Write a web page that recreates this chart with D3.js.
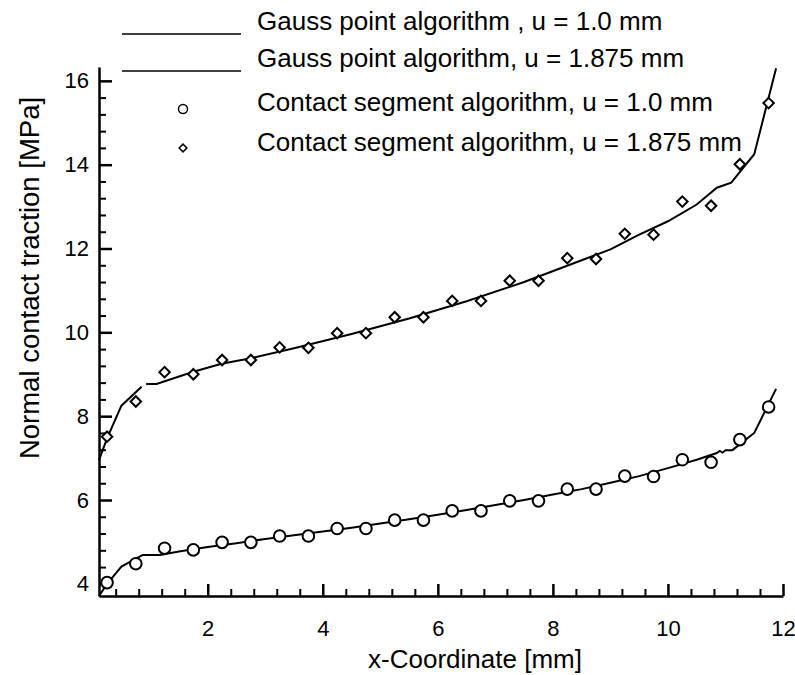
<!DOCTYPE html>
<html>
<head>
<meta charset="utf-8">
<script src="https://cdn.jsdelivr.net/npm/d3@7"></script>
<style>
  body { margin: 0; background: #fff; }
  text { font-family: "Liberation Sans", Arial, Helvetica, sans-serif; fill: #000; }
</style>
</head>
<body>
<script>
// x positions of the contact segment results (same for both loads)
var segX = [0.25, 0.75, 1.25, 1.75, 2.25, 2.75, 3.25, 3.75, 4.25, 4.75, 5.25, 5.75,
            6.25, 6.75, 7.25, 7.75, 8.25, 8.75, 9.25, 9.75, 10.25, 10.75, 11.25, 11.75];
// contact segment algorithm, u = 1.0 mm
var segY1 = [4.03, 4.48, 4.85, 4.81, 4.99, 4.99, 5.14, 5.14, 5.32, 5.32, 5.52, 5.52,
             5.74, 5.74, 5.98, 5.98, 6.26, 6.26, 6.57, 6.56, 6.96, 6.90, 7.44, 8.22];
// contact segment algorithm, u = 1.875 mm
var segY2 = [7.51, 8.35, 9.05, 9.00, 9.34, 9.34, 9.64, 9.63, 9.98, 9.98, 10.36, 10.36,
             10.75, 10.75, 11.23, 11.23, 11.77, 11.75, 12.35, 12.33, 13.12, 13.02, 14.01, 15.47];

// gauss point algorithm, u = 1.0 mm
var gaussX1 = [0.11, 0.25, 0.5, 0.87, 1.17, 1.5, 2.0, 2.5, 3.0, 3.5, 4.0, 4.5, 5.0, 5.5, 6.0,
               6.5, 7.0, 7.5, 8.0, 8.5, 9.0, 9.5, 10.0, 10.5, 10.85, 10.9, 10.95, 11.0, 11.12, 11.5, 11.88];
var gaussY1 = [3.71, 4.0, 4.41, 4.69, 4.69, 4.77, 4.88, 4.97, 5.07, 5.16, 5.25, 5.34, 5.44, 5.54, 5.65,
               5.76, 5.88, 6.0, 6.13, 6.26, 6.41, 6.57, 6.76, 6.96, 7.12, 7.17, 7.13, 7.19, 7.19, 7.6, 8.65];
// gauss point algorithm, u = 1.875 mm (null = gap in the curve)
var gaussX2 = [0.11, 0.25, 0.5, 0.85, 0.89, 0.93, 1.11, 1.75, 2.24, 2.75, 3.5, 4.5, 5.5, 6.5,
               7.5, 8.5, 9.0, 9.5, 10.0, 10.5, 10.85, 11.1, 11.5, 11.88];
var gaussY2 = [6.95, 7.47, 8.25, 8.7, null, 8.77, 8.77, 9.06, 9.25, 9.38, 9.62, 9.96, 10.33, 10.74,
               11.2, 11.72, 11.98, 12.33, 12.65, 13.05, 13.45, 13.57, 14.25, 16.3];

var xTicks = [2, 4, 6, 8, 10, 12];
var yTicks = [4, 6, 8, 10, 12, 14, 16];
var legendLabels = ["Gauss point algorithm , u = 1.0 mm",
                    "Gauss point algorithm, u = 1.875 mm",
                    "Contact segment algorithm, u = 1.0 mm",
                    "Contact segment algorithm, u = 1.875 mm"];

var width = 795, height = 675;

var svg = d3.select("body").append("svg")
  .attr("width", width)
  .attr("height", height);

var xscale = d3.scaleLinear().domain([0.11, 12]).range([99, 783]);
var yscale = d3.scaleLinear().domain([3.71, 16.33]).range([596, 67]);

// minor ticks every 0.4
var xMinor = d3.range(0.4, 12, 0.4).filter(v => Math.abs(v / 2 - Math.round(v / 2)) > 0.01 && v > 0.11);
var yMinor = d3.range(3.6, 16.4, 0.4).filter(v => Math.abs(v / 2 - Math.round(v / 2)) > 0.01 && v > 3.71 && v < 16.33);

svg.append("g")
  .attr("transform", "translate(0,596)")
  .call(d3.axisBottom(xscale).tickValues(xMinor).tickSizeInner(-7).tickSizeOuter(0).tickFormat(""))
  .call(g => g.select(".domain").remove())
  .selectAll("line").attr("stroke-width", 2);

svg.append("g")
  .attr("transform", "translate(99,0)")
  .call(d3.axisLeft(yscale).tickValues(yMinor).tickSizeInner(-7).tickSizeOuter(0).tickFormat(""))
  .call(g => g.select(".domain").remove())
  .selectAll("line").attr("stroke-width", 2);

var xAxis = svg.append("g")
  .attr("transform", "translate(0,596)")
  .call(d3.axisBottom(xscale).tickValues(xTicks).tickSizeInner(-12).tickSizeOuter(0).tickPadding(24));
xAxis.select(".domain").attr("stroke-width", 2.5);
xAxis.selectAll("line").attr("stroke-width", 2.5);
xAxis.selectAll("text").style("font-size", "22px").style("font-family", "Liberation Sans, Arial, sans-serif");

var yAxis = svg.append("g")
  .attr("transform", "translate(99,0)")
  .call(d3.axisLeft(yscale).tickValues(yTicks).tickSizeInner(-13).tickSizeOuter(0).tickPadding(10));
yAxis.select(".domain").attr("stroke-width", 2.5);
yAxis.selectAll("line").attr("stroke-width", 2.5);
yAxis.selectAll("text").style("font-size", "22px").style("font-family", "Liberation Sans, Arial, sans-serif");

// axis titles
svg.append("text")
  .text("x-Coordinate [mm]")
  .attr("x", 475).attr("y", 668)
  .attr("text-anchor", "middle")
  .style("font-size", "26px");

svg.append("text")
  .text("Normal contact traction [MPa]")
  .attr("transform", "translate(39,278) rotate(-90)")
  .attr("text-anchor", "middle")
  .style("font-size", "27.5px");

// curves
var line = d3.line()
  .defined(d => d[1] != null)
  .x(d => xscale(d[0]))
  .y(d => yscale(d[1]));

svg.append("path")
  .datum(gaussX1.map((x, i) => [x, gaussY1[i]]))
  .attr("d", line)
  .attr("fill", "none")
  .attr("stroke", "black")
  .attr("stroke-width", 2);

svg.append("path")
  .datum(gaussX2.map((x, i) => [x, gaussY2[i]]))
  .attr("d", line)
  .attr("fill", "none")
  .attr("stroke", "black")
  .attr("stroke-width", 2);

// markers
svg.selectAll(".circ")
  .data(segX.map((x, i) => [x, segY1[i]]))
  .enter()
  .append("circle")
  .attr("cx", d => xscale(d[0]))
  .attr("cy", d => yscale(d[1]))
  .attr("r", 5.8)
  .attr("fill", "white")
  .attr("stroke", "black")
  .attr("stroke-width", 2);

var diamond = d3.symbol().type(d3.symbolSquare).size(55);
svg.selectAll(".diam")
  .data(segX.map((x, i) => [x, segY2[i]]))
  .enter()
  .append("path")
  .attr("d", diamond)
  .attr("transform", d => "translate(" + xscale(d[0]) + "," + yscale(d[1]) + ") rotate(45)")
  .attr("fill", "white")
  .attr("stroke", "black")
  .attr("stroke-width", 2);

// legend
var legendY = [30, 67, 111, 151];
var lg = svg.append("g");
legendLabels.forEach(function (t, i) {
  lg.append("text")
    .text(t)
    .attr("x", 257).attr("y", legendY[i])
    .style("font-size", "26px");
});
lg.append("line").attr("x1", 122).attr("x2", 241).attr("y1", 34).attr("y2", 34)
  .attr("stroke", "black").attr("stroke-width", 1.5);
lg.append("line").attr("x1", 122).attr("x2", 241).attr("y1", 71).attr("y2", 71)
  .attr("stroke", "black").attr("stroke-width", 1.5);
lg.append("circle").attr("cx", 183).attr("cy", 109).attr("r", 4.5)
  .attr("fill", "white").attr("stroke", "black").attr("stroke-width", 1.5);
lg.append("path")
  .attr("d", d3.symbol().type(d3.symbolSquare).size(30))
  .attr("transform", "translate(183,148) rotate(45)")
  .attr("fill", "white").attr("stroke", "black").attr("stroke-width", 1.5);
</script>
</body>
</html>
